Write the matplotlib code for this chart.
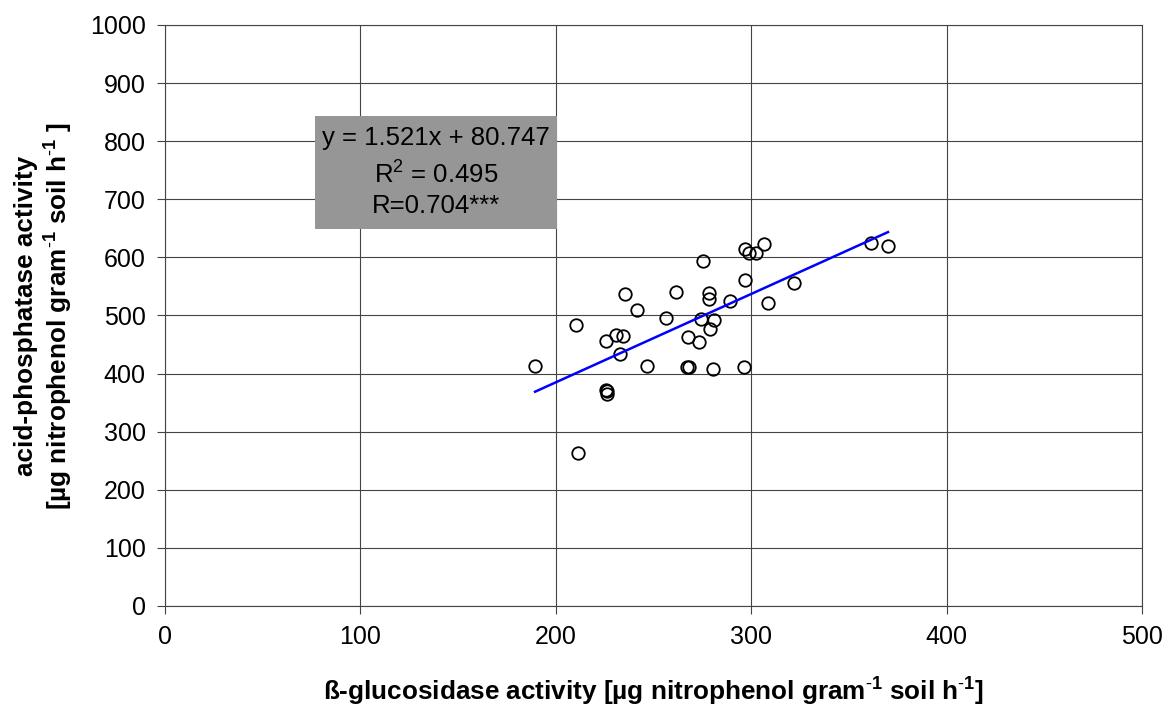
import matplotlib
matplotlib.use("Agg")
import matplotlib.pyplot as plt
from matplotlib.patches import Rectangle

plt.rcParams['font.family'] = ['Liberation Sans', 'DejaVu Sans']
plt.rcParams['mathtext.fontset'] = 'custom'
plt.rcParams['mathtext.rm'] = 'Liberation Sans'
plt.rcParams['mathtext.bf'] = 'Liberation Sans:bold'
plt.rcParams['mathtext.default'] = 'regular'

# beta-glucosidase vs acid-phosphatase
glucosidase = [189.4, 210.2, 211.4, 225.9, 230.7, 234.6, 232.8, 235.3, 241.3,
               225.6, 226.3, 226.0, 246.8, 256.3, 261.3, 266.9, 268.1, 267.9,
               273.4, 274.1, 275.1, 278.5, 278.2, 279.0, 280.9, 280.5, 289.4,
               296.2, 296.9, 296.9, 299.0, 302.4, 306.3, 308.7, 321.8, 361.4,
               370.0]
phosphatase = [412.5, 482.9, 263.6, 455.7, 466.7, 465.0, 434.4, 537.7, 508.8,
               372.0, 369.2, 364.6, 412.5, 496.1, 540.6, 410.7, 410.7, 463.2,
               454.0, 494.4, 593.1, 538.3, 529.0, 476.5, 491.5, 407.8, 525.0,
               411.3, 561.3, 614.4, 606.9, 607.5, 622.5, 522.1, 556.7, 625.4,
               619.0]

slope = 1.521
intercept = 80.747
fit_lines = ["y = 1.521x + 80.747", "R$^2$ = 0.495", "R=0.704***"]

x_ticks = [0, 100, 200, 300, 400, 500]
y_ticks = [0, 100, 200, 300, 400, 500, 600, 700, 800, 900, 1000]

sup = r"$^{\text{-}1}$"
xlab = "ß-glucosidase activity [µg nitrophenol gram" + sup + " soil h" + sup + "]"
ylab1 = "acid-phosphatase activity"
ylab2 = "[µg nitrophenol gram" + sup + " soil h" + sup + " ]"

fig = plt.figure(figsize=(11.72, 7.08), dpi=100)
ax = fig.add_axes([0.1408, 0.1441, 0.8336, 0.8206])

ax.set_xlim(0, 500)
ax.set_ylim(0, 1000)
ax.set_xticks(x_ticks)
ax.set_yticks(y_ticks)
ax.grid(True, color='#444444', linewidth=0.8)
ax.set_axisbelow(True)
for s in ax.spines.values():
    s.set_color('#444444')
    s.set_linewidth(0.8)
ax.tick_params(axis='both', direction='out', length=6, width=0.8, color='#444444',
               labelsize=18, pad=8)

ax.plot(glucosidase, phosphatase, 'o', mfc='none', mec='black', ms=9, mew=1.3,
        zorder=3)
xs = [min(glucosidase), max(glucosidase)]
ax.plot(xs, [slope * v + intercept for v in xs], color='#0000ff', lw=1.8, zorder=4)

ax.add_patch(Rectangle((0.1535, 0.649), 0.2475, 0.194, transform=ax.transAxes,
                       facecolor='#969696', edgecolor='none', zorder=5))
for txt, yy in zip(fit_lines, [0.805, 0.742, 0.688]):
    ax.text(0.277, yy, txt, transform=ax.transAxes, ha='center', va='center',
            fontsize=18.5, zorder=6)

fig.text(653.5 / 1172, 1 - 701 / 708, xlab, ha='center', va='baseline',
         fontsize=18.8, fontweight='bold')
yc = 1 - 315.5 / 708
fig.text(33 / 1172, yc, ylab1, ha='center', va='baseline', rotation=90,
         rotation_mode='anchor', fontsize=18.8, fontweight='bold')
fig.text(68 / 1172, yc, ylab2, ha='center', va='baseline', rotation=90,
         rotation_mode='anchor', fontsize=18.8, fontweight='bold')

fig.savefig("out.png", dpi=100)
